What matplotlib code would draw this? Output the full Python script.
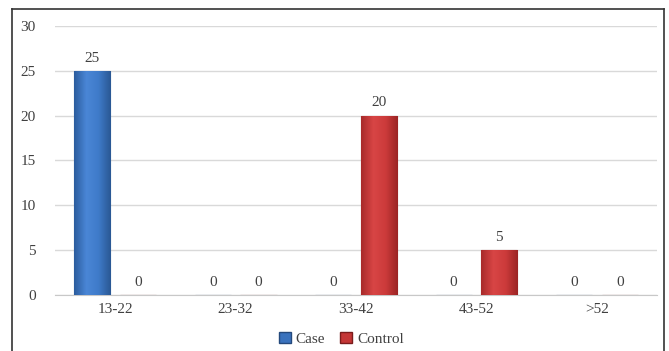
import numpy as np
import matplotlib
matplotlib.use("Agg")
import matplotlib.pyplot as plt
from matplotlib.lines import Line2D
from matplotlib.patches import Patch
from matplotlib.colors import LinearSegmentedColormap

categories = ["13-22", "23-32", "33-42", "43-52", ">52"]
case_values = [25, 0, 0, 0, 0]
control_values = [0, 0, 20, 5, 0]
series_names = ["Case", "Control"]

plt.rcParams["font.family"] = ["Liberation Serif", "DejaVu Serif"]
text_color = "#404040"

fig = plt.figure(figsize=(6.69, 3.51), dpi=100)
ax = fig.add_axes([0.0822, 0.1595, 0.9, 0.7665])

x = np.arange(len(categories))
width = 0.3
offset = 0.19

blue_cmap = LinearSegmentedColormap.from_list("b", ["#2c5d9e", "#4a86d6", "#3f7bc9", "#2a5894"])
red_cmap = LinearSegmentedColormap.from_list("r", ["#a82a2a", "#d84545", "#cc3b3b", "#9c2424"])


def shaded_bars(xs, vals, cmap, edge):
    bars = ax.bar(xs, vals, width, color=cmap(0.6), edgecolor=edge, linewidth=0.8, zorder=3)
    grad = np.linspace(0, 1, 64).reshape(1, -1)
    for b, v in zip(bars, vals):
        if v <= 0:
            continue
        x0, w = b.get_x(), b.get_width()
        im = ax.imshow(grad, cmap=cmap, extent=[x0, x0 + w, 0, v], aspect="auto",
                       zorder=3.5, interpolation="bilinear")
        im.set_clip_path(b)
    for xi, v in zip(xs, vals):
        ax.text(xi, v + 0.7, f"{v}", ha="center", va="bottom", fontsize=11,
                color=text_color, zorder=5)
    return bars


shaded_bars(x - offset, case_values, blue_cmap, "#24497c")
shaded_bars(x + offset, control_values, red_cmap, "#7a1c1c")

ax.set_xlim(-0.5, len(categories) - 0.5)
ax.set_ylim(0, 30)
ax.set_yticks(np.arange(0, 31, 5))
ax.set_xticks(x)
ax.set_xticklabels(categories)
ax.tick_params(axis="both", length=0, labelsize=11, colors=text_color)
ax.tick_params(axis="y", pad=14)
ax.tick_params(axis="x", pad=6)
ax.grid(axis="y", color="#d9d9d9", linewidth=1, zorder=0)
ax.set_axisbelow(True)
for s in ["top", "right", "left"]:
    ax.spines[s].set_visible(False)
ax.spines["bottom"].set_color("#c8c8c8")

handles = [Patch(facecolor="#3a72bd", edgecolor="#24497c"),
           Patch(facecolor="#c43636", edgecolor="#7a1c1c")]
fig.legend(handles, series_names, loc="center", bbox_to_anchor=(0.51, 0.035),
           ncol=2, frameon=False, fontsize=11, handlelength=0.8, handleheight=0.8,
           handletextpad=0.3, columnspacing=1.0, labelcolor=text_color)

# outer frame (left, top, right)
fx0, fx1, fy1 = 12 / 669, 664 / 669, 1 - 9 / 351
fig.add_artist(Line2D([fx0, fx0], [0, fy1], color="#333333", linewidth=1.2, transform=fig.transFigure))
fig.add_artist(Line2D([fx0, fx1], [fy1, fy1], color="#333333", linewidth=1.2, transform=fig.transFigure))
fig.add_artist(Line2D([fx1, fx1], [0, fy1], color="#333333", linewidth=1.2, transform=fig.transFigure))

fig.savefig("out.png", dpi=100)
